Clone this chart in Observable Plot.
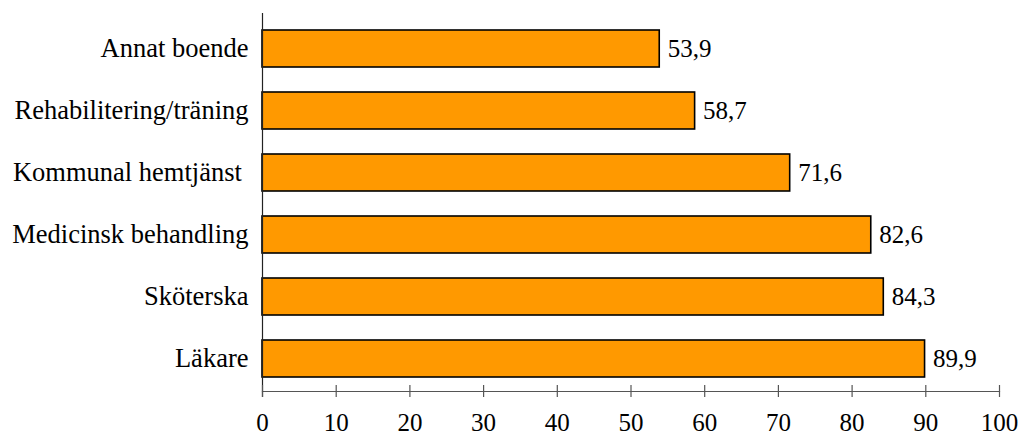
<!DOCTYPE html>
<html>
<head>
<meta charset="utf-8">
<script src="https://cdn.jsdelivr.net/npm/d3@7"></script>
<script src="https://cdn.jsdelivr.net/npm/@observablehq/plot@0.6"></script>
<style>
  html, body { margin: 0; padding: 0; background: #ffffff; }
  #chart svg { display: block; }
</style>
</head>
<body>
<div id="chart"></div>
<script>
// Categories from top to bottom, with their percentages
const categories = [
  "Annat boende",
  "Rehabilitering/träning",
  "Kommunal hemtjänst\u00a0",
  "Medicinsk behandling",
  "Sköterska",
  "Läkare"
];
const values = [53.9, 58.7, 71.6, 82.6, 84.3, 89.9];
const xTicks = [0, 10, 20, 30, 40, 50, 60, 70, 80, 90, 100];

const rows = categories.map((c, i) => ({category: c, value: values[i]}));
const fmt = v => d3.format(".1f")(v).replace(".", ",");

const font = "Liberation Serif, Times New Roman, serif";
const axisColor = "#555555";

const chart = Plot.plot({
  width: 1024,
  height: 432,
  marginLeft: 262,
  marginRight: 25,
  marginTop: 16.6,
  marginBottom: 41,
  style: {fontFamily: font, fontSize: "25px", color: "#000", background: "#fff"},
  x: {domain: [0, 100], ticks: xTicks},
  y: {domain: categories, paddingInner: 0.4, paddingOuter: 0.2},
  marks: [
    Plot.barX(rows, {
      x: "value",
      y: "category",
      fill: "#FF9900",
      stroke: "#000",
      strokeWidth: 1.6
    }),
    // value labels
    Plot.text(rows, {
      x: "value",
      y: "category",
      text: d => fmt(d.value),
      textAnchor: "start",
      dx: 8,
      fill: "#000",
      fontFamily: font,
      fontSize: 25
    }),
    // category labels
    Plot.axisY({
      tickSize: 0,
      tickPadding: 14,
      label: null,
      fill: "#000",
      fontFamily: font,
      fontSize: 26.5
    }),
    // bottom axis line
    Plot.frame({anchor: "bottom", stroke: axisColor, strokeWidth: 1.2}),
    // vertical axis line, slightly longer than the plot area
    Plot.ruleX([0], {stroke: "#222", strokeWidth: 1.2, insetTop: -3.6, insetBottom: -6}),
    // tick marks crossing the bottom axis line
    Plot.axisX({
      ticks: xTicks,
      tickSize: 12,
      text: null,
      dy: -6,
      stroke: axisColor,
      strokeWidth: 1.2,
      label: null
    }),
    // tick labels
    Plot.axisX({
      ticks: xTicks,
      tickSize: 0,
      tickPadding: 21.5,
      label: null,
      fill: "#000",
      fontFamily: font,
      fontSize: 25
    })
  ]
});

document.getElementById("chart").append(chart);
</script>
</body>
</html>
